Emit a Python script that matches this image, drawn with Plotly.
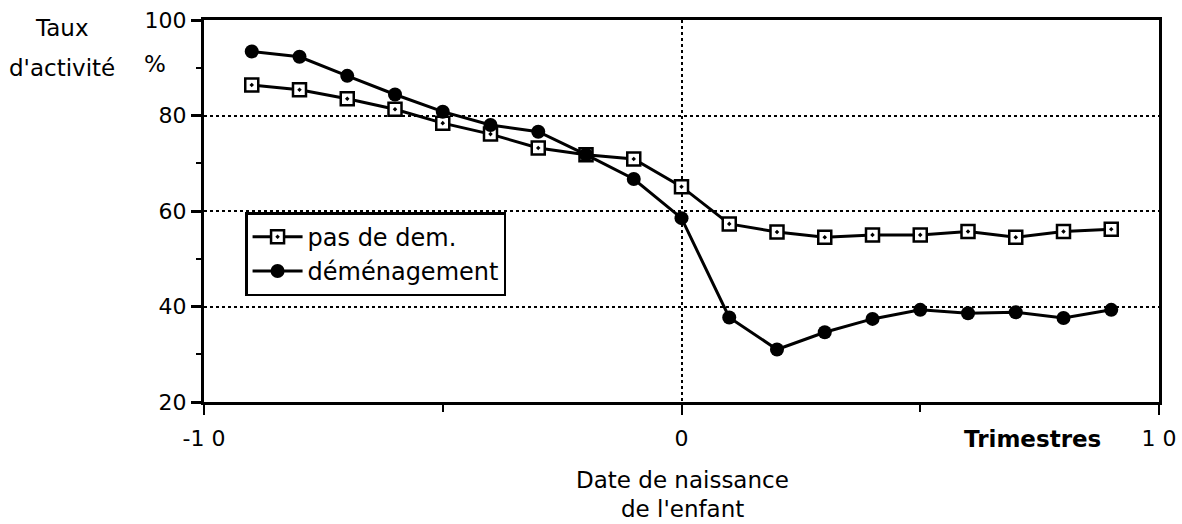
import plotly.graph_objects as go

trimestres = [-9, -8, -7, -6, -5, -4, -3, -2, -1, 0, 1, 2, 3, 4, 5, 6, 7, 8, 9]
pas_de_dem = [86.4, 85.4, 83.5, 81.3, 78.4, 76.1, 73.2, 71.8, 70.9, 65.1, 57.3, 55.6, 54.5, 55.0, 55.0, 55.7, 54.5, 55.7, 56.2]
demenagement = [93.4, 92.3, 88.3, 84.4, 80.8, 78.0, 76.6, 71.8, 66.7, 58.5, 37.7, 31.0, 34.6, 37.4, 39.3, 38.6, 38.8, 37.6, 39.3]
y_ticks = [20, 40, 60, 80, 100]
x_ticks = [-10, 0, 10]
x_tick_text = ["-1 0", "0", "1 0"]

FONT = "DejaVu Sans"
FS = 22
FS_TXT = 23

fig = go.Figure()
fig.add_trace(go.Scatter(
    x=trimestres, y=pas_de_dem, mode="lines+markers", name="pas de dem.",
    line=dict(color="black", width=3),
    marker=dict(symbol="square-dot", size=13, color="white",
                line=dict(color="black", width=2.5)),
))
fig.add_trace(go.Scatter(
    x=trimestres, y=demenagement, mode="lines+markers", name="déménagement",
    line=dict(color="black", width=3),
    marker=dict(symbol="circle", size=14, color="black"),
))

fig.update_layout(
    width=1182, height=524,
    margin=dict(l=204, r=23, t=20, b=122, autoexpand=False),
    paper_bgcolor="white", plot_bgcolor="white",
    font=dict(family=FONT, size=FS, color="black"),
    showlegend=True,
    legend=dict(
        x=0.043, y=0.497, xanchor="left", yanchor="top",
        bgcolor="white", bordercolor="black", borderwidth=2.5,
        font=dict(family=FONT, size=24, color="black"),
        itemwidth=50,
    ),
    xaxis=dict(
        range=[-10, 10], tickvals=x_ticks, ticktext=x_tick_text,
        automargin=False,
        showline=True, linecolor="black", linewidth=2.5, mirror=True,
        ticks="outside", ticklen=10, tickwidth=2, tickcolor="black",
        minor=dict(tickvals=[-5, 5], ticks="outside", ticklen=7, tickwidth=2, tickcolor="black", showgrid=False),
        showgrid=True, gridcolor="black", gridwidth=2, griddash="dot",
        zeroline=False,
        tickfont=dict(family=FONT, size=FS),
        ticklabelstandoff=5,
    ),
    yaxis=dict(
        range=[20, 100], tickvals=y_ticks,
        automargin=False,
        showline=True, linecolor="black", linewidth=3, mirror=True,
        ticks="outside", ticklen=10, tickwidth=2.5, tickcolor="black",
        minor=dict(tickvals=[30, 50, 70, 90], ticks="outside", ticklen=5, tickwidth=2, tickcolor="black", showgrid=False),
        showgrid=True, gridcolor="black", gridwidth=2, griddash="dot",
        zeroline=False,
        tickfont=dict(family=FONT, size=FS),
    ),
    annotations=[
        dict(text="Taux", x=62, y=28, xref="paper", yref="paper", showarrow=False),
        dict(text="d'activité", x=62, y=68, xref="paper", yref="paper", showarrow=False),
        dict(text="%", x=155, y=64, xref="paper", yref="paper", showarrow=False),
        dict(text="<b>Trimestres</b>", x=1032, y=439, xref="paper", yref="paper", showarrow=False),
        dict(text="Date de naissance", x=682, y=480, xref="paper", yref="paper", showarrow=False),
        dict(text="de l'enfant", x=682, y=509, xref="paper", yref="paper", showarrow=False),
    ],
)

# convert pixel positions of annotations to paper coordinates
pw = 1182 - 204 - 23
ph = 524 - 20 - 122
for a in fig.layout.annotations:
    a.x = (a.x - 204) / pw
    a.y = 1 - (a.y - 20) / ph
    a.xanchor = "center"
    a.yanchor = "middle"
    a.font = dict(family=FONT, size=FS_TXT, color="black")

fig.write_html(
    "out.html",
    config={"displayModeBar": False},
    post_script="document.body.style.margin='0';document.body.style.overflow='hidden';",
)
